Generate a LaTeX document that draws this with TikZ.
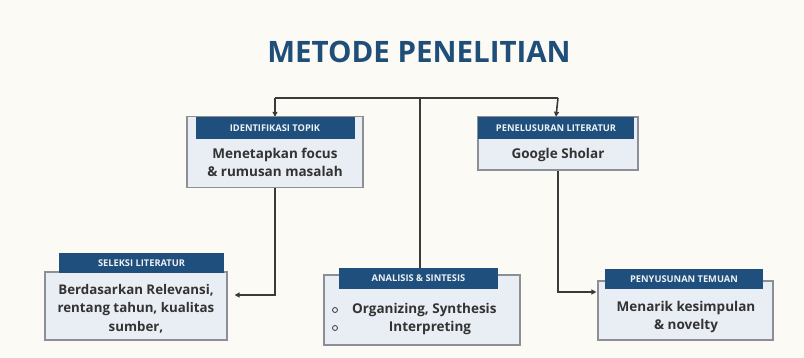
\documentclass[tikz,border=0pt]{standalone}
\usepackage{fontspec}
\setmainfont{Open Sans}
\usetikzlibrary{arrows.meta}
\definecolor{bgc}{HTML}{FCFAF4}
\definecolor{hdr}{HTML}{1F4F7C}
\definecolor{boxf}{HTML}{E9EEF4}
\definecolor{boxd}{HTML}{8C9096}
\definecolor{linec}{HTML}{3A3A3A}
\definecolor{titlec}{HTML}{1F4E78}
\tikzset{
  card/.style={draw=boxd, fill=boxf, line width=1.2pt, inner sep=0pt},
  hdrbar/.style={fill=hdr, inner sep=0pt, text=white!92!hdr, font=\bfseries\fontsize{9.3}{10}\selectfont},
  body/.style={inner sep=0pt, align=center, text=black!80, font=\bfseries\fontsize{13.5}{18}\selectfont},
  conn/.style={draw=linec, line width=1.6pt},
  arr/.style={conn, -{Triangle[length=5pt,width=5pt]}},
  bul/.style={circle, draw=black!80, line width=0.8pt, minimum size=5pt, inner sep=0pt}
}
\begin{document}
\begin{tikzpicture}[x=1pt,y=-1pt]
\fill[bgc] (0,0) rectangle (804,358);
\useasboundingbox (0,0) rectangle (804,358);
\node[font=\bfseries\fontsize{29.5}{32}\selectfont, text=titlec, inner sep=0pt] (title) at (419,52) {METODE PENELITIAN};

% Box 1: Identifikasi Topik
\node[card, minimum width=176pt, minimum height=71pt] (b1) at (275,152) {};
\node[hdrbar, minimum width=159pt, minimum height=22pt] (h1) at (275,128) {IDENTIFIKASI TOPIK};
\node[body] (t1) at (275,162) {Menetapkan focus\\\& rumusan masalah};

% Box 2: Penelusuran Literatur
\node[card, minimum width=160pt, minimum height=53pt] (b2) at (558,143.5) {};
\node[hdrbar, minimum width=156pt, minimum height=22pt] (h2) at (556,128) {PENELUSURAN LITERATUR};
\node[body] (t2) at (558,155) {Google Sholar};

% Box 3: Seleksi Literatur
\node[card, minimum width=182pt, minimum height=68pt] (b3) at (136,306) {};
\node[hdrbar, minimum width=165pt, minimum height=20pt] (h3) at (141.5,263) {SELEKSI LITERATUR};
\node[body, font=\bfseries\fontsize{13.3}{18.5}\selectfont] (t3) at (136,308.5) {Berdasarkan Relevansi,\\rentang tahun, kualitas\\sumber,};

% Box 4: Analisis & Sintesis
\node[card, minimum width=196pt, minimum height=70pt] (b4) at (422,310) {};
\node[hdrbar, minimum width=159pt, minimum height=21pt] (h4) at (418.5,278.5) {ANALISIS \& SINTESIS};
\node[body, anchor=west] (t4a) at (352,310) {Organizing, Synthesis};
\node[body] (t4b) at (430,328) {Interpreting};
\node[bul] (c4a) at (335,310) {};
\node[bul] (c4b) at (335,328) {};

% Box 5: Penyusunan Temuan
\node[card, minimum width=175pt, minimum height=59pt] (b5) at (685.5,310.5) {};
\node[hdrbar, minimum width=158pt, minimum height=20pt] (h5) at (684,279) {PENYUSUNAN TEMUAN};
\node[body] (t5) at (686,316.5) {Menarik kesimpulan\\\& novelty};

% connectors
\coordinate (jl) at (275,98);
\coordinate (jc) at (420,98);
\coordinate (jr) at (558,98);
\coordinate (k1) at (275,295);
\coordinate (k2) at (558,292);
\draw[conn] (jl) -- (jr);
\draw[arr] (jl) -- (h1.north);
\draw[arr] (jr) -- (h2.north);
\draw[conn] (jc) -- (jc |- h4.north);
\draw[arr, shorten >=7pt] (b1.south) -- (k1) -- (k1 -| b3.east);
\draw[arr, shorten >=1pt] (b2.south) -- (k2) -- (k2 -| b5.west);
\end{tikzpicture}
\end{document}
